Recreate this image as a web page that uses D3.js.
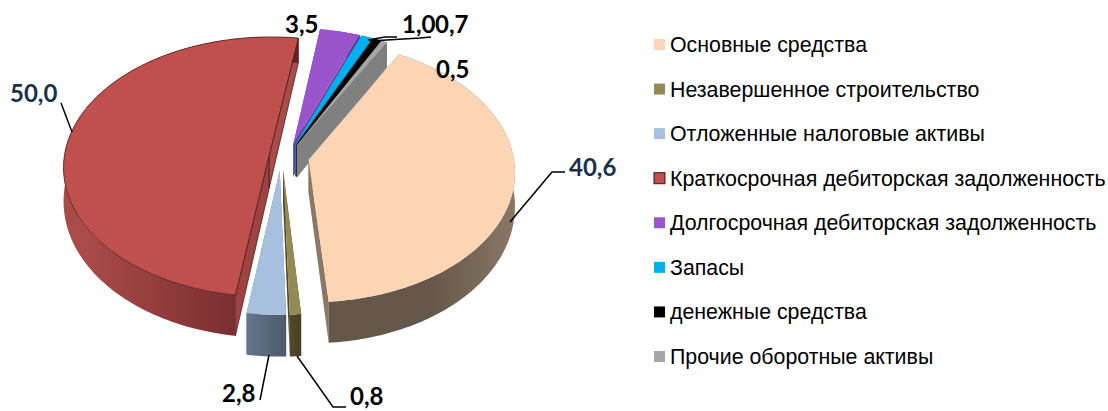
<!DOCTYPE html>
<html>
<head>
<meta charset="utf-8">
<script src="https://cdn.jsdelivr.net/npm/d3@7"></script>
<style>
  html, body { margin: 0; padding: 0; background: #fff; }
  svg { display: block; }
</style>
</head>
<body>
<svg id="chart" width="1108" height="411"></svg>
<script>
/* Exploded 3D pie, projected by hand since d3 has no 3D pie */
var categories = [
  'Основные средства',
  'Незавершенное строительство',
  'Отложенные налоговые активы',
  'Краткосрочная дебиторская задолженность',
  'Долгосрочная дебиторская задолженность',
  'Запасы',
  'денежные средства',
  'Прочие оборотные активы'
];
var values = [40.6, 0.8, 2.8, 50.0, 3.5, 1.0, 0.7, 0.5];
var valueLabels = ['40,6', '0,8', '2,8', '50,0', '3,5', '1,0', '0,7', '0,5'];

var topColors = ['#fcd5b5', '#948a54', '#a7c0e0', '#c0504d', '#9a55cd', '#00b0f0', '#000000', '#a6a6a6'];
var wallLight = ['#8a7766', '#4f4a2c', '#64778f', '#a84b49', '#6f3c96', '#0a7fae', '#000000', '#808080'];
var wallDark  = ['#65574a', '#45411f', '#4c5a6b', '#682224', '#5b2f7d', '#086c94', '#000000', '#7c7c7c'];
var sliceShift = [0, -6, -7, 2, 0, -1, -1, -1];

var svg = d3.select('#chart');
var defs = svg.append('defs');

var cx = 288, cy = 157, R = 205, tilt = 0.635, persp = 0.09, explode = 21;

function project(wx, wy) {
  var s = 1 + persp * wy / R;
  return [cx + wx * s, cy + wy * tilt * s];
}
function depthAt(wy) { return 33 + 8 * wy / R; }

var pie = d3.pie().sort(null)
  .startAngle(29 * Math.PI / 180)
  .endAngle(389 * Math.PI / 180);
var slices = pie(values);
var line = d3.line();

function centre(s) {
  var mid = (s.startAngle + s.endAngle) / 2;
  return [Math.sin(mid) * explode + sliceShift[s.index], -Math.cos(mid) * explode];
}
function rim(s, a) {
  var c = centre(s);
  return [c[0] + Math.sin(a) * R, c[1] - Math.cos(a) * R];
}
function rimArc(s) {
  var n = Math.max(4, Math.ceil((s.endAngle - s.startAngle) * 60));
  return d3.range(n + 1).map(function (i) {
    return rim(s, s.startAngle + (s.endAngle - s.startAngle) * i / n);
  });
}
function down(w) {
  var p = project(w[0], w[1]);
  return [p[0], p[1] + depthAt(w[1])];
}

/* back slices first */
var order = slices.slice().sort(function (a, b) {
  return centre(a)[1] - centre(b)[1];
});

var pieG = svg.append('g');

order.forEach(function (s) {
  var i = s.index;
  var c = centre(s), arc = rimArc(s);
  var first = arc[0], last = arc[arc.length - 1];

  var gradId = 'wall' + i;
  var xs = arc.map(function (w) { return project(w[0], w[1])[0]; });
  var grad = defs.append('linearGradient').attr('id', gradId)
    .attr('gradientUnits', 'userSpaceOnUse')
    .attr('x1', i === 0 ? d3.max(xs) : d3.min(xs)).attr('y1', 0)
    .attr('x2', i === 0 ? d3.min(xs) : d3.max(xs)).attr('y2', 0);
  grad.append('stop').attr('offset', i === 3 ? '0.1' : '0').attr('stop-color', wallLight[i]);
  grad.append('stop').attr('offset', i === 0 ? '0.45' : '1').attr('stop-color', wallDark[i]);

  /* cut walls */
  [first, last].forEach(function (w, k) {
    var pts = [project(c[0], c[1]), project(w[0], w[1]), down(w), down(c)];
    pieG.append('path').attr('d', line(pts) + 'Z')
      .attr('fill', i === 3 ? (k ? '#a84b49' : '#9e4341') : wallLight[i])
      .attr('stroke', i === 3 ? '#3c1414' : 'none').attr('stroke-width', 0.7);
  });

  /* outer wall */
  var top = arc.map(function (w) { return project(w[0], w[1]); });
  var bottom = arc.map(down).reverse();
  pieG.append('path').attr('d', line(top.concat(bottom)) + 'Z')
    .attr('fill', 'url(#' + gradId + ')');

  /* top face */
  pieG.append('path').attr('d', line([project(c[0], c[1])].concat(top)) + 'Z')
    .attr('fill', topColors[i])
    .attr('stroke', i === 3 ? '#4a1c1b' : 'none').attr('stroke-width', 0.8);
});

/* data labels: anchor sits on the slice, the rest is layout */
var labelLayout = [
  { x: 569, y: 176, leader: [[510, 222], [552, 172], [565, 172]], fill: '#17324f' },
  { x: 350, y: 405, leader: [[297, 356], [333, 407], [346, 407]], fill: '#000' },
  { x: 222, y: 402, leader: [[260, 400], [269, 355]], fill: '#000' },
  { x: 10,  y: 102, leader: [[72, 132], [61, 103]], fill: '#17324f' },
  { x: 285, y: 33,  leader: null, fill: '#000' },
  { x: 402, y: 33,  leader: [[368, 40], [385, 37], [397, 37]], fill: '#000' },
  { x: 435, y: 33,  leader: [[370, 41], [420, 38], [431, 37]], fill: '#000' },
  { x: 436, y: 78,  leader: null, fill: '#000' }
];

labelLayout.forEach(function (l, i) {
  if (l.leader) {
    svg.append('path').attr('d', line(l.leader))
      .attr('fill', 'none').attr('stroke', '#000').attr('stroke-width', 1.5);
  }
  svg.append('text').attr('x', l.x).attr('y', l.y)
    .attr('font-family', 'Lato, sans-serif').attr('font-weight', 700).attr('font-size', 24)
    .attr('fill', l.fill).text(valueLabels[i]);
});

/* legend */
var legendY = d3.scalePoint().domain(categories).range([45, 357]);
var legend = svg.append('g').selectAll('g').data(categories).enter().append('g')
  .attr('transform', function (d) { return 'translate(654,' + legendY(d) + ')'; });
legend.append('rect')
  .attr('x', 0).attr('y', -6).attr('width', 11).attr('height', 11)
  .attr('fill', function (d, i) { return topColors[i]; })
  .attr('stroke', function (d, i) { return i === 3 ? '#3c1414' : 'none'; });
legend.append('text').attr('x', 16).attr('y', 7)
  .attr('font-family', '"Liberation Sans", Arial, sans-serif').attr('font-size', 21.35)
  .attr('fill', '#000').text(function (d) { return d; });
</script>
</body>
</html>
